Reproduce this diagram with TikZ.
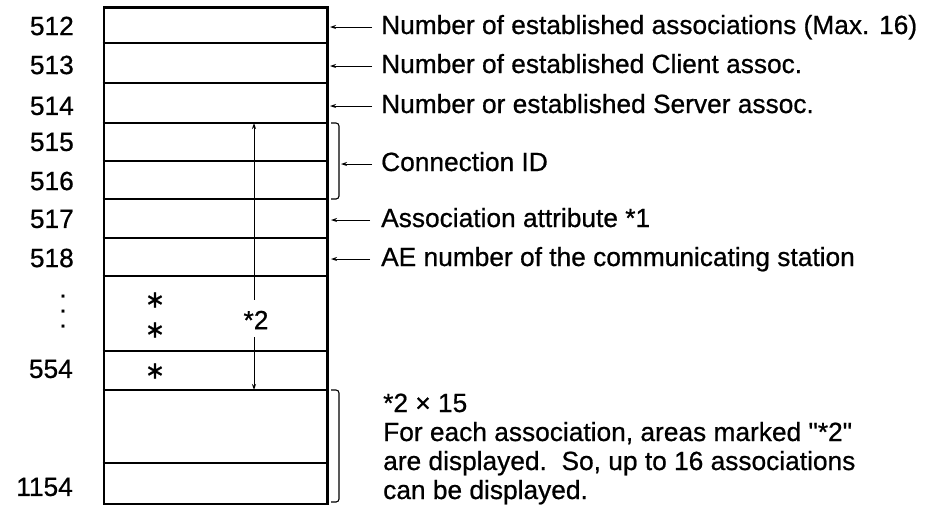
\documentclass[tikz,border=0pt]{standalone}
\usepackage{fontspec}
\setmainfont{Liberation Sans}[FakeBold=0.7, Ligatures=TeXOff]
\newfontfamily\starfont{DejaVu Sans}[FakeBold=0.6]
\usetikzlibrary{arrows.meta}
\begin{document}
\begin{tikzpicture}[x=1pt,y=-1pt,
  every node/.style={inner sep=0pt, font=\fontsize{26.3}{29}\selectfont},
  addr/.style={anchor=east},
  note/.style={anchor=base west, text height=14pt, text depth=0pt},
  star/.style={font=\starfont\fontsize{24}{24}\selectfont},
  rowline/.style={line width=1.1pt},
  ptr/.style={-{Stealth[length=6pt,width=4pt]}, line width=1pt},
  bracket/.style={line width=1.1pt, rounded corners=3pt}]
\useasboundingbox (0,0) rectangle (936,515);

% memory block
\node[draw, line width=2.8pt, minimum width=223.5pt, minimum height=496.5pt,
      anchor=north west] (mem) at (102.5,6) {};
\foreach \y in {43,83,123,161,199,238,276,351,390,463}
  \draw[rowline] (102.5,\y) -- (326,\y);

% addresses
\node[addr] (a512) at (74,26) {512};
\node[addr] (a513) at (74,65) {513};
\node[addr] (a514) at (74,106) {514};
\node[addr] (a515) at (74,142) {515};
\node[addr] (a516) at (74,181) {516};
\node[addr] (a517) at (74,219) {517};
\node[addr] (a518) at (74,258) {518};
\node[align=center, font=\fontsize{26.3}{15}\selectfont] (vd) at (63,311) {.\\.\\.};
\node[addr] (a554) at (73,369) {554};
\node[addr] (a1154) at (73,487) {1154};

% repeated-area marks
\node[star] (s1) at (155,300) {∗};
\node[star] (s2) at (155,330) {∗};
\node[star] (s3) at (155,371) {∗};

% span of one association block
\coordinate (a2top) at (254,123);
\coordinate (a2bot) at (254,390);
\node (m2) at (256,320) {*2};
\draw[ptr] ([yshift=11pt]m2.north -| a2top) -- (a2top);
\draw[ptr] ([yshift=-8pt]m2.south -| a2bot) -- (a2bot);

% field descriptions
\coordinate (edge) at (330,0);
\coordinate (edgeB) at (331,0);
\node[note] (n1) at (381,34) {Number of established associations (Max. 16)};
\node[note] (n2) at (381,73) {Number of established Client assoc.};
\node[note] (n3) at (381,113) {Number or established Server assoc.};
\node[note] (n4) at (381,171) {Connection ID};
\node[note] (n5) at (381,227) {Association attribute *1};
\node[note] (n6) at (381,266) {AE number of the communicating station};

\draw[ptr] ([xshift=-9pt]n1.west) -- (n1.west -| edge);
\draw[ptr] ([xshift=-9pt]n2.west) -- (n2.west -| edge);
\draw[ptr] ([xshift=-9pt]n3.west) -- (n3.west -| edge);
\draw[ptr] ([xshift=-11pt]n5.west) -- (n5.west -| edgeB);
\draw[ptr] ([xshift=-11pt]n6.west) -- (n6.west -| edgeB);

% connection ID bracket
\draw[bracket] (331,123) -- (339,123) -- (339,199) -- (331,199);
\coordinate (brA) at (341,0);
\draw[ptr] ([xshift=-9pt]n4.west) -- (n4.west -| brA);

% repeated blocks bracket and note
\draw[bracket] (331,390) -- (339,390) -- (339,502) -- (331,502);
\node[note] (r1) at (383,412) {*2 × 15};
\node[note] (r2) at (383,441) {For each association, areas marked "*2"};
\node[note] (r3) at (383,470) {are displayed.\ \ So, up to 16 associations};
\node[note] (r4) at (383,499) {can be displayed.};
\end{tikzpicture}
\end{document}
